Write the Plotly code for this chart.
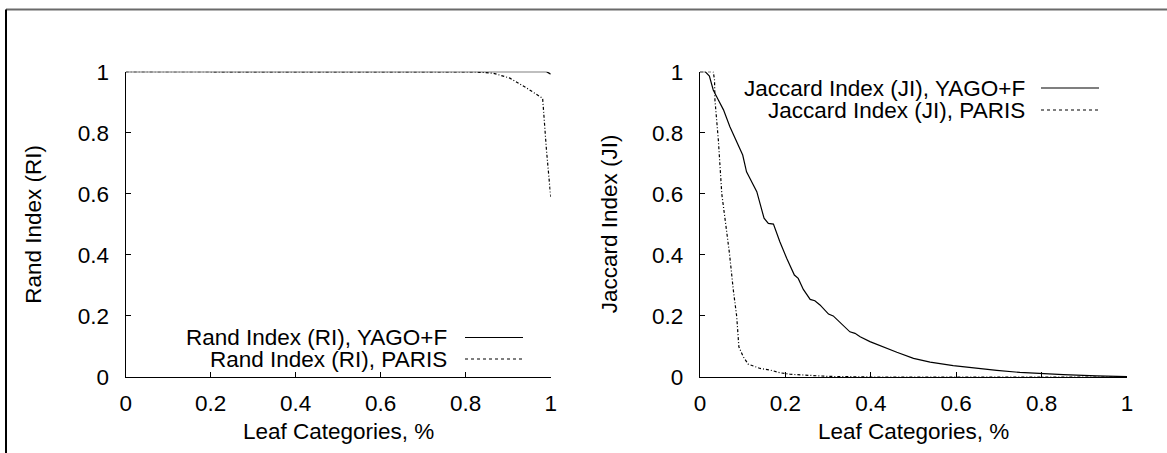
import plotly.graph_objects as go

W, H = 1167, 453

# ---- data ----
ri_yago_x = [0.0, 0.2, 0.4, 0.6, 0.8, 0.99, 1.0]
ri_yago_y = [1.0, 1.0, 1.0, 1.0, 1.0, 1.0, 0.992]

ri_paris_x = [0.0, 0.2, 0.4, 0.6, 0.8, 0.826, 0.865, 0.904, 0.944, 0.981, 0.99, 1.0]
ri_paris_y = [1.0, 1.0, 1.0, 1.0, 1.0, 0.999, 0.995, 0.979, 0.946, 0.913, 0.744, 0.59]

ji_yago_x = [0.0, 0.012, 0.022, 0.031, 0.043, 0.055, 0.070, 0.084, 0.100, 0.109, 0.121,
             0.133, 0.150, 0.160, 0.172, 0.187, 0.203, 0.221, 0.230, 0.242, 0.258, 0.269,
             0.281, 0.301, 0.312, 0.328, 0.351, 0.363, 0.375, 0.398, 0.422, 0.461, 0.500,
             0.539, 0.593, 0.640, 0.695, 0.749, 0.800, 0.851, 0.929, 1.0]
ji_yago_y = [1.0, 1.0, 0.986, 0.940, 0.907, 0.875, 0.820, 0.776, 0.727, 0.672, 0.640,
             0.607, 0.520, 0.503, 0.501, 0.443, 0.389, 0.334, 0.323, 0.287, 0.254, 0.250,
             0.236, 0.206, 0.200, 0.178, 0.148, 0.143, 0.132, 0.116, 0.102, 0.081, 0.061,
             0.049, 0.037, 0.029, 0.022, 0.015, 0.011, 0.0075, 0.004, 0.001]

ji_paris_x = [0.0, 0.031, 0.034, 0.035, 0.043, 0.051, 0.059, 0.069, 0.078, 0.086, 0.091,
              0.101, 0.113, 0.141, 0.164, 0.187, 0.211, 0.250, 0.300, 0.400, 0.600, 0.800, 1.0]
ji_paris_y = [1.0, 1.0, 0.973, 0.907, 0.776, 0.600, 0.514, 0.405, 0.285, 0.198, 0.099,
              0.067, 0.042, 0.028, 0.023, 0.014, 0.009, 0.005, 0.002, 0.0, 0.0, 0.0, 0.0]

x_ticks = [0, 0.2, 0.4, 0.6, 0.8, 1]
x_tick_labels = ["0", "0.2", "0.4", "0.6", "0.8", "1"]
y_ticks = [0, 0.2, 0.4, 0.6, 0.8, 1]
y_tick_labels = ["0", "0.2", "0.4", "0.6", "0.8", "1"]

x_title = "Leaf Categories, %"
left_y_title = "Rand Index (RI)"
right_y_title = "Jaccard Index (JI)"
left_names = ["Rand Index (RI), YAGO+F", "Rand Index (RI), PARIS"]
right_names = ["Jaccard Index (JI), YAGO+F", "Jaccard Index (JI), PARIS"]

# ---- layout helpers ----
def px(x):
    return x / W

def py(y):
    return 1 - y / H

FONT = "Liberation Sans, Arial, sans-serif"
FS = 22.5
PARIS_DASH = "3px,2px,1px,2px"

L_X0, L_X1 = 125.7, 550.7
R_X0, R_X1 = 700.0, 1127.0
Y_TOP, Y_BOT = 71.7, 377.0

fig = go.Figure()

line_solid = dict(color="black", width=1.2)
line_dot = dict(color="black", width=1.2, dash=PARIS_DASH)

fig.add_trace(go.Scatter(x=ri_yago_x, y=ri_yago_y, mode="lines", line=line_solid,
                         name=left_names[0], xaxis="x", yaxis="y", showlegend=False))
fig.add_trace(go.Scatter(x=ri_paris_x, y=ri_paris_y, mode="lines", line=line_dot,
                         name=left_names[1], xaxis="x", yaxis="y", showlegend=False))
fig.add_trace(go.Scatter(x=ji_yago_x, y=ji_yago_y, mode="lines", line=line_solid,
                         name=right_names[0], xaxis="x2", yaxis="y2", showlegend=False))
fig.add_trace(go.Scatter(x=ji_paris_x, y=ji_paris_y, mode="lines", line=line_dot,
                         name=right_names[1], xaxis="x2", yaxis="y2", showlegend=False))

axis_common = dict(
    range=[0, 1], showgrid=False, zeroline=False, showline=True, linecolor="black",
    linewidth=1.2, ticks="inside", ticklen=5, tickwidth=1, tickcolor="black",
    tickfont=dict(family=FONT, size=FS, color="black"), fixedrange=True,
    automargin=False,
)

fig.update_layout(
    width=W, height=H,
    margin=dict(l=0, r=0, t=0, b=0, pad=0, autoexpand=False),
    paper_bgcolor="white", plot_bgcolor="white",
    showlegend=False,
    hovermode=False,
    xaxis=dict(axis_common, domain=[px(L_X0), px(L_X1)], anchor="y",
               tickvals=x_ticks, ticktext=x_tick_labels, ticklabelstandoff=6),
    yaxis=dict(axis_common, domain=[py(Y_BOT), py(Y_TOP)], anchor="x",
               tickvals=y_ticks, ticktext=y_tick_labels, ticklabelstandoff=11),
    xaxis2=dict(axis_common, domain=[px(R_X0), px(R_X1)], anchor="y2",
                tickvals=x_ticks, ticktext=x_tick_labels, ticklabelstandoff=6),
    yaxis2=dict(axis_common, domain=[py(Y_BOT), py(Y_TOP)], anchor="x2",
                tickvals=y_ticks, ticktext=y_tick_labels, ticklabelstandoff=11),
)

annotations = []
tfont = dict(family=FONT, size=FS, color="black")
for cx, txt in [((L_X0 + L_X1) / 2, x_title), ((R_X0 + R_X1) / 2, x_title)]:
    annotations.append(dict(x=px(cx), y=py(431), xref="paper", yref="paper", text=txt,
                            showarrow=False, font=tfont, xanchor="center", yanchor="middle"))
for cx, txt in [(33.5, left_y_title), (609, right_y_title)]:
    annotations.append(dict(x=px(cx), y=py((Y_TOP + Y_BOT) / 2), xref="paper", yref="paper",
                            text=txt, textangle=-90, showarrow=False, font=tfont,
                            xanchor="center", yanchor="middle"))

shapes = []
legends = [
    (449, 465, 523, [337.5, 359.0], left_names),
    (1027, 1041, 1099, [88.0, 110.0], right_names),
]
for tx, lx0, lx1, rows, names in legends:
    for i, (ry, nm) in enumerate(zip(rows, names)):
        annotations.append(dict(x=px(tx), y=py(ry), xref="paper", yref="paper", text=nm,
                                showarrow=False, font=tfont, xanchor="right", yanchor="middle"))
        shapes.append(dict(type="line", xref="paper", yref="paper",
                           x0=px(lx0), x1=px(lx1), y0=py(ry), y1=py(ry),
                           line=dict(color="black", width=1.2,
                                     dash="solid" if i == 0 else "dot")))

# outer frame (only the top and left edges are inside the picture)
shapes.append(dict(type="line", xref="paper", yref="paper", x0=px(6), x1=1.05,
                   y0=py(9.5), y1=py(9.5), line=dict(color="#6a6a6a", width=2)))
shapes.append(dict(type="line", xref="paper", yref="paper", x0=px(6), x1=px(6),
                   y0=py(9.5), y1=-0.05, line=dict(color="black", width=2)))

fig.update_layout(annotations=annotations, shapes=shapes)

fig.write_html("out.html",
               config={"displayModeBar": False, "staticPlot": True},
               post_script="document.body.style.margin='0px';document.body.style.overflow='hidden';")
